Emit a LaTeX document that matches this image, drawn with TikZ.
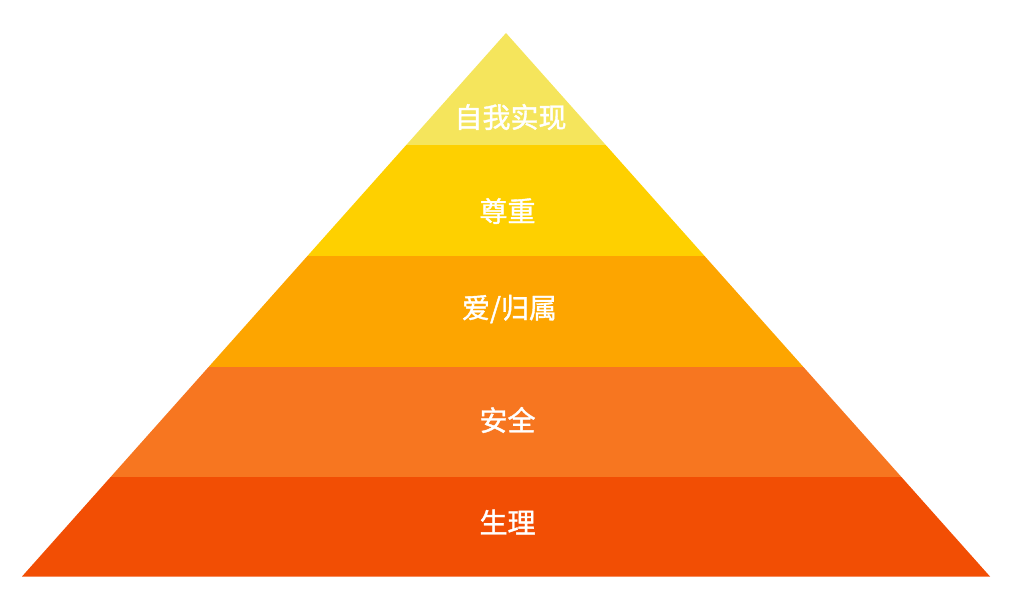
\documentclass[tikz,border=0pt]{standalone}
\usepackage{fontspec}
\newfontfamily\cjk{Noto Sans CJK SC}[RawFeature={embolden=1.3}]
\definecolor{selfcol}{RGB}{245,229,92}
\definecolor{esteemcol}{RGB}{254,208,0}
\definecolor{lovecol}{RGB}{253,165,0}
\definecolor{safecol}{RGB}{247,118,32}
\definecolor{bodycol}{RGB}{242,78,4}

\begin{document}
\begin{tikzpicture}[x=1pt, y=-1pt,
    level/.style={font=\cjk\fontsize{28}{32}\selectfont, text=white, inner sep=0pt}
  ]
    \useasboundingbox (0,0) rectangle (1019,594);
    \begin{scope}
      \clip (506,33) -- (990,576.5) -- (22,576.5) -- cycle;
      \fill[selfcol] (0,0) rectangle (1019,144.5);
      \fill[esteemcol] (0,144.5) rectangle (1019,255.5);
      \fill[lovecol] (0,255.5) rectangle (1019,366.5);
      \fill[safecol] (0,366.5) rectangle (1019,477);
      \fill[bodycol] (0,477) rectangle (1019,594);
    \end{scope}

    \node[level] (self) at (510.5,117) {自我实现};
    \node[level] (esteem) at (507.5,211) {尊重};
    \node[level] (love) at (509.5,309) {爱/归属};
    \node[level] (safe) at (507.5,420) {安全};
    \node[level] (body) at (507.5,522) {生理};
  \end{tikzpicture}
\end{document}
